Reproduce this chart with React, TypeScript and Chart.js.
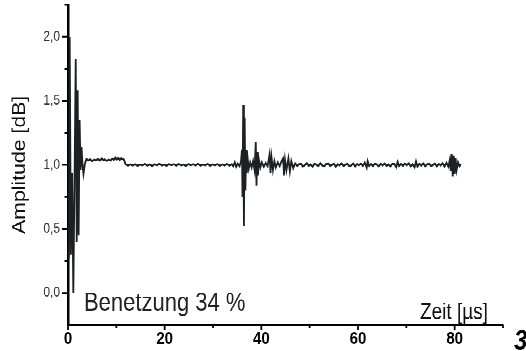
import React, { useEffect, useRef } from 'react';
import { Chart, registerables } from 'chart.js';

Chart.register(...registerables);

// ---- data (time in µs, amplitude in dB) ----
const timeUs = [
  // initial burst
  0.2, 0.35, 0.6, 0.85, 1.1, 1.35, 1.6, 1.8, 2.0, 2.2, 2.4, 2.6, 2.8, 3.0, 3.2, 3.5, 3.8,
  // plateau
  4.2, 4.6, 5.0, 5.4, 5.8, 6.2, 6.6, 7.0, 7.3, 7.6, 8.0, 8.4, 8.8, 9.2, 9.5, 9.8, 10.1, 10.4, 10.7, 11.0, 11.3, 11.6,
  // baseline
  11.9, 12.4, 12.9, 13.4, 13.9, 14.4, 14.9, 15.4, 15.9, 16.4,
  16.9, 17.4, 17.9, 18.4, 18.9, 19.4, 19.9, 20.4, 20.9, 21.4,
  21.9, 22.4, 22.9, 23.4, 23.9, 24.4, 24.9, 25.4, 25.9, 26.4,
  26.9, 27.4, 27.9, 28.4, 28.9, 29.4, 29.9, 30.4, 30.9, 31.4,
  31.9, 32.4, 32.9, 33.4, 33.9,
  // echoes
  34.2, 34.5, 34.8, 35.1, 35.5, 35.8, 36.0, 36.1, 36.25, 36.4,
  36.55, 36.7, 36.85, 37.0, 37.2, 37.4, 37.7, 38.0, 38.3, 38.6,
  38.85, 39.0, 39.15, 39.3, 39.5, 39.8, 40.1, 40.5, 40.9, 41.3,
  41.7, 41.9, 42.1, 42.4, 42.7, 43.0, 43.4, 43.8, 44.2, 44.5,
  44.7, 44.9, 45.2, 45.6, 45.9, 46.2, 46.6,
  // late baseline
  47.0, 47.4, 47.8, 48.2, 48.6, 49.0, 49.4, 49.8, 50.2, 50.6,
  51.0, 51.4, 51.8, 52.2, 52.6, 53.0, 53.4, 53.8, 54.2, 54.6,
  55.0, 55.4, 55.8, 56.2, 56.6, 57.0, 57.4, 57.8, 58.2, 58.6,
  59.0, 59.4, 59.8, 60.2, 60.6, 61.0, 61.4, 61.8,
  62.0, 62.3,
  62.7, 63.1, 63.5, 63.9, 64.3, 64.7, 65.1, 65.5, 65.9, 66.3, 66.7, 67.1, 67.5, 67.9,
  68.2, 68.5,
  68.9, 69.3, 69.7, 70.1, 70.5, 70.9, 71.3, 71.7,
  72.0, 72.3,
  72.7, 73.1, 73.5, 73.9, 74.3, 74.7, 75.1, 75.5, 75.9, 76.3, 76.7, 77.1, 77.5, 77.9, 78.3, 78.7,
  // final burst
  79.0, 79.2, 79.4, 79.6, 79.8, 80.0, 80.2, 80.4, 80.7, 81.0, 81.3,
];

const amplitudeDb = [
  // initial burst
  0.27, 2.0, 0.3, 0.94, 0.0, 0.88, 1.83, 0.4, 1.58, 0.45, 1.35, 0.96, 1.14, 1.0, 0.93, 1.01, 1.045,
  // plateau
  1.035, 1.042, 1.03, 1.04, 1.036, 1.044, 1.034, 1.05, 1.036, 1.042, 1.032, 1.04, 1.035, 1.048, 1.04, 1.058, 1.042, 1.055, 1.038, 1.052, 1.045, 1.04,
  // baseline
  1.005, 0.995, 1.003, 0.996, 1.004, 0.994, 1.002, 0.997, 1.006, 0.995,
  1.003, 0.992, 1.004, 0.997, 1.008, 0.996, 1.002, 0.994, 1.005, 0.998,
  1.004, 0.995, 1.006, 0.997, 1.002, 0.993, 1.005, 0.998, 1.004, 0.996,
  1.007, 0.995, 1.002, 0.997, 1.006, 0.994, 1.003, 0.997, 1.005, 0.994,
  1.003, 0.996, 1.006, 0.995, 1.004,
  // echoes
  0.99, 1.02, 0.985, 1.01, 0.99, 1.03, 1.12, 0.75, 1.47, 0.52,
  1.37, 0.8, 1.12, 0.94, 1.04, 0.97, 1.02, 0.98, 1.03, 0.96,
  1.18, 0.84, 1.1, 0.92, 1.04, 0.98, 1.02, 0.985, 1.015, 0.99,
  1.08, 0.94, 1.06, 0.96, 1.03, 0.98, 1.02, 0.99, 1.03, 1.05,
  0.92, 1.04, 0.96, 1.05, 0.95, 1.03, 0.975,
  // late baseline
  1.012, 0.992, 1.004, 1.009, 0.988, 0.998, 1.014, 0.993, 1.003, 0.987,
  1.008, 1.001, 0.991, 1.013, 0.996, 0.989, 1.006, 1.011, 0.994, 0.999,
  1.009, 0.986, 1.004, 0.997, 1.012, 0.992, 1.001, 1.007, 0.99, 0.996,
  1.011, 0.988, 1.005, 0.998, 1.01, 0.992, 1.018, 0.978,
  1.028, 0.992,
  1.006, 0.991, 1.01, 1.002, 0.989, 1.008, 0.996, 1.011, 0.993, 1.003, 0.988, 1.007, 1.009, 0.982,
  1.024, 0.991,
  1.007, 0.993, 1.01, 0.998, 1.012, 0.989, 1.004, 0.981,
  1.027, 0.987,
  1.008, 0.995, 1.012, 0.99, 1.003, 1.009, 0.992, 0.998, 1.011, 0.989, 1.006, 0.996, 1.013, 0.987, 1.016, 0.986,
  // final burst
  1.04, 0.95, 1.085, 0.91, 1.07, 0.93, 1.05, 0.96, 1.02, 0.99, 1.005,
];

const xTickValues = [0, 20, 40, 60, 80];
const xMinorTickValues = [10, 30, 50, 70, 90];
const yTickValues = [0, 0.5, 1.0, 1.5, 2.0];
const yMinorTickValues = [0.25, 0.75, 1.25, 1.75, 2.25];

const yAxisTitle = 'Amplitude [dB]';
const xAxisLabel = 'Zeit [µs]';
const annotationText = 'Benetzung 34 %';
const figureNumber = '3';

const FONT = '"Liberation Sans", Arial, Helvetica, sans-serif';
const W = 526;
const H = 297;
const STRETCH = 351 / H;

const overlayPlugin = {
  id: 'overlay',
  afterDraw(chart: any) {
    const { ctx, chartArea: a, scales } = chart;
    ctx.save();
    ctx.strokeStyle = '#000';
    // y ticks
    ctx.lineWidth = 1.5;
    ctx.beginPath();
    yTickValues.forEach((v) => {
      const y = scales.y.getPixelForValue(v);
      ctx.moveTo(a.left - 6, y);
      ctx.lineTo(a.left, y);
    });
    yMinorTickValues.forEach((v) => {
      const y = scales.y.getPixelForValue(v);
      ctx.moveTo(a.left - 3.5, y);
      ctx.lineTo(a.left, y);
    });
    ctx.stroke();
    // x ticks
    ctx.lineWidth = 1.8;
    ctx.beginPath();
    xTickValues.forEach((v) => {
      const x = scales.x.getPixelForValue(v);
      ctx.moveTo(x, a.bottom);
      ctx.lineTo(x, a.bottom + 4.2);
    });
    xMinorTickValues.forEach((v) => {
      const x = scales.x.getPixelForValue(v);
      ctx.moveTo(x, a.bottom);
      ctx.lineTo(x, a.bottom + 2.5);
    });
    ctx.stroke();

    ctx.textAlign = 'left';
    ctx.textBaseline = 'alphabetic';
    ctx.fillStyle = '#222';
    ctx.font = `22px ${FONT}`;
    ctx.fillText(annotationText, 84, 263);
    ctx.fillStyle = '#111';
    ctx.font = `19px ${FONT}`;
    ctx.fillText(xAxisLabel, 420, 270);
    ctx.fillStyle = '#000';
    ctx.font = `italic bold 24px ${FONT}`;
    ctx.fillText(figureNumber, 514, 296);
    ctx.restore();
  },
};

export default function App() {
  const canvasRef = useRef<HTMLCanvasElement | null>(null);

  useEffect(() => {
    const canvas = canvasRef.current;
    if (!canvas) return;
    const chart = new Chart(canvas, {
      type: 'line',
      data: {
        datasets: [
          {
            data: timeUs.map((t, i) => ({ x: t, y: amplitudeDb[i] })),
            borderColor: '#1d2124',
            borderWidth: 1.8,
            pointRadius: 0,
            tension: 0,
            fill: false,
          },
        ],
      },
      options: {
        animation: false,
        responsive: false,
        devicePixelRatio: 2,
        layout: { padding: { top: 4, right: 23, bottom: 0, left: 0 } },
        plugins: {
          legend: { display: false },
          tooltip: { enabled: false },
        },
        scales: {
          x: {
            type: 'linear',
            min: 0,
            max: 90,
            grid: { display: false, drawTicks: false },
            border: { display: true, color: '#000', width: 1.8 },
            ticks: {
              font: { family: FONT, size: 15, weight: 'bold' },
              color: '#000',
              padding: 3,
              maxRotation: 0,
              autoSkip: false,
            },
            afterBuildTicks: (s: any) => {
              s.ticks = xTickValues.map((v) => ({ value: v }));
            },
            afterFit: (s: any) => {
              s.height = 22;
              s.paddingLeft = 0;
              s.paddingRight = 0;
              s.paddingTop = 0;
              s.paddingBottom = 0;
            },
          },
          y: {
            type: 'linear',
            min: -0.25,
            max: 2.25,
            grid: { display: false, drawTicks: false },
            border: { display: true, color: '#000', width: 2.5 },
            ticks: {
              font: { family: FONT, size: 12 },
              color: '#333',
              padding: 8,
              callback: (v: any) => Number(v).toFixed(1).replace('.', ','),
            },
            afterBuildTicks: (s: any) => {
              s.ticks = yTickValues.map((v) => ({ value: v }));
            },
            title: {
              display: true,
              text: yAxisTitle,
              font: { family: FONT, size: 18 },
              color: '#111',
              padding: { top: 9, bottom: 0 },
            },
            afterFit: (s: any) => {
              s.width = 68;
              s.paddingLeft = 0;
              s.paddingRight = 0;
              s.paddingTop = 0;
              s.paddingBottom = 0;
            },
          },
        },
      } as any,
      plugins: [overlayPlugin],
    });
    return () => chart.destroy();
  }, []);

  return (
    <div
      style={{
        position: 'fixed',
        left: 0,
        top: 0,
        width: W,
        height: H,
        transform: `scaleY(${STRETCH})`,
        transformOrigin: '0 0',
        background: '#fff',
      }}
    >
      <canvas
        ref={canvasRef}
        width={W}
        height={H}
        style={{ display: 'block', width: `${W}px`, height: `${H}px` }}
      />
    </div>
  );
}
